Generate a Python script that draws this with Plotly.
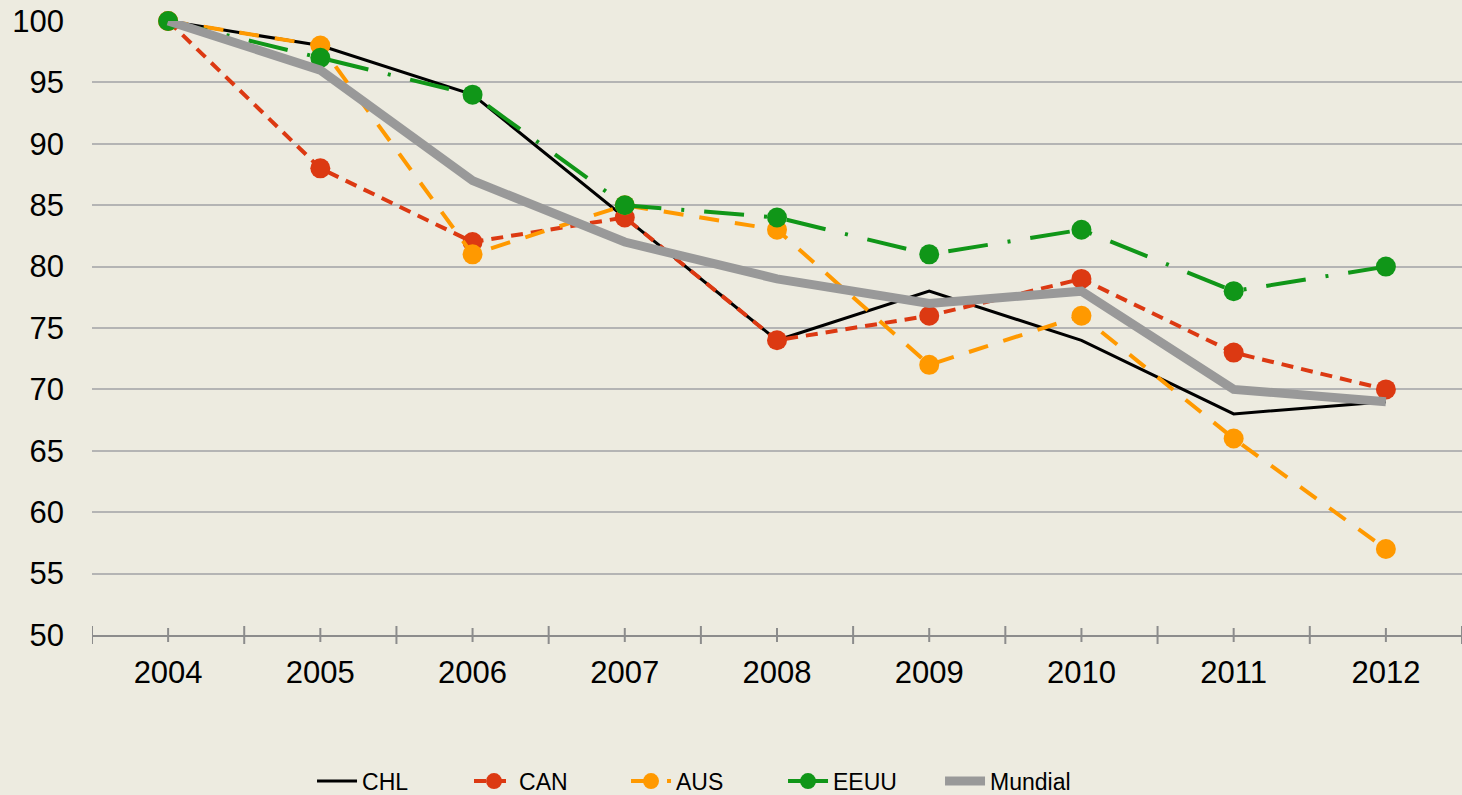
import plotly.graph_objects as go

years = ["2004", "2005", "2006", "2007", "2008", "2009", "2010", "2011", "2012"]
chl = [100, 98, 94, 84, 74, 78, 74, 68, 69]
can = [100, 88, 82, 84, 74, 76, 79, 73, 70]
aus = [100, 98, 81, 85, 83, 72, 76, 66, 57]
eeuu = [100, 97, 94, 85, 84, 81, 83, 78, 80]
mundial = [100, 96, 87, 82, 79, 77, 78, 70, 69]
y_ticks = [50, 55, 60, 65, 70, 75, 80, 85, 90, 95, 100]

xs = list(range(len(years)))
BG = "#EDEBE0"
FONT = "Liberation Sans, Arial, sans-serif"

fig = go.Figure()
fig.add_trace(go.Scatter(x=xs, y=chl, name="CHL", mode="lines",
                         line=dict(color="#000000", width=3), cliponaxis=False))
fig.add_trace(go.Scatter(x=xs, y=can, name="CAN", mode="lines+markers",
                         line=dict(color="#DC3912", width=4, dash="12px,8px"),
                         marker=dict(size=20, color="#DC3912"), cliponaxis=False))
fig.add_trace(go.Scatter(x=xs, y=aus, name="AUS", mode="lines+markers",
                         line=dict(color="#FF9900", width=4, dash="20px,16px"),
                         marker=dict(size=20, color="#FF9900"), cliponaxis=False))
fig.add_trace(go.Scatter(x=xs, y=eeuu, name="EEUU", mode="lines+markers",
                         line=dict(color="#109618", width=4, dash="40px,20px,3px,20px"),
                         marker=dict(size=20, color="#109618"), cliponaxis=False))
fig.add_trace(go.Scatter(x=xs, y=mundial, name="Mundial", mode="lines",
                         line=dict(color="#999999", width=9), cliponaxis=False))

shapes = []
for i in range(len(years) + 1):
    shapes.append(dict(type="line", xref="x", yref="paper", x0=i - 0.5, x1=i - 0.5,
                       y0=-9 / 614, y1=9 / 614, line=dict(color="#8C8C8C", width=2)))
for i in xs:
    shapes.append(dict(type="line", xref="x", yref="paper", x0=i, x1=i,
                       y0=-7 / 614, y1=7 / 614, line=dict(color="#8C8C8C", width=2)))

fig.update_layout(
    width=1462, height=795,
    margin=dict(l=92, r=0, t=21, b=160, autoexpand=False),
    paper_bgcolor=BG, plot_bgcolor=BG,
    font=dict(family=FONT, color="#000000"),
    showlegend=True,
    legend=dict(orientation="h", x=0.1606, xanchor="left", y=-0.238, yanchor="middle",
                font=dict(size=23, family=FONT), bgcolor="rgba(0,0,0,0)",
                itemwidth=40, entrywidth=102, entrywidthmode="pixels", tracegroupgap=0),
    shapes=shapes,
    xaxis=dict(range=[-0.5, len(years) - 0.5], tickvals=xs, ticktext=years,
               showgrid=False, zeroline=False, showline=True, linecolor="#8C8C8C",
               linewidth=2, ticks="", tickfont=dict(size=31, family=FONT),
               ticklabelstandoff=9, automargin=False),
    yaxis=dict(range=[50, 100], tickvals=y_ticks, showgrid=True, gridcolor="#B4B4B4",
               gridwidth=2, zeroline=False, showline=False, ticks="",
               tickfont=dict(size=31, family=FONT), ticklabelstandoff=27, automargin=False),
)

fig.write_html("out.html", config={"displayModeBar": False},
               post_script="document.body.style.margin='0';document.body.style.overflow='hidden';")
